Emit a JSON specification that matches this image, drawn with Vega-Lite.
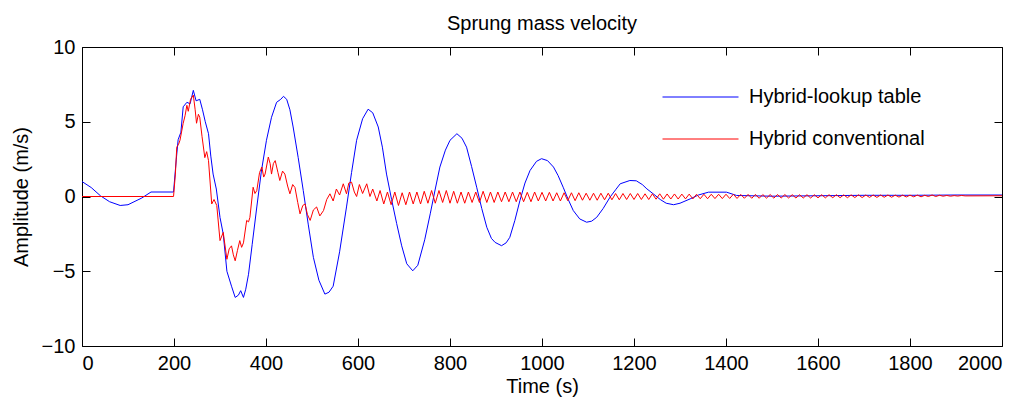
{
  "$schema": "https://vega.github.io/schema/vega-lite/v6.json",
  "width": 920,
  "height": 299,
  "autosize": {"type": "none"},
  "padding": {"left": 82, "top": 47, "right": 27, "bottom": 61},
  "background": "white",
  "title": {"text": "Sprung mass velocity", "fontSize": 20, "fontWeight": "normal", "font": "Liberation Sans", "color": "black", "anchor": "middle", "offset": 3},
  "config": {
    "font": "Liberation Sans",
    "view": {"stroke": "black", "strokeWidth": 1},
    "axis": {"grid": false, "domain": false, "tickColor": "black", "tickSize": -8, "tickWidth": 1, "labelFont": "Liberation Sans", "labelFontSize": 20, "labelColor": "black", "titleFont": "Liberation Sans", "titleFontSize": 20, "titleFontWeight": "normal", "titleColor": "black", "labelPadding": 15}
  },
  "datasets": {
    "lookup": [
      {"t":0,"v":1.0},{"t":20,"v":0.6},{"t":40,"v":0.05},{"t":60,"v":-0.35},{"t":83,"v":-0.6},{"t":100,"v":-0.55},{"t":130,"v":-0.1},{"t":150,"v":0.3},{"t":199,"v":0.3},
      {"t":205,"v":2.5},{"t":209,"v":3.8},{"t":215,"v":4.3},{"t":220,"v":6.0},{"t":228,"v":6.3},{"t":235,"v":6.2},{"t":242,"v":7.1},{"t":248,"v":6.4},{"t":256,"v":6.5},{"t":262,"v":5.8},{"t":268,"v":5.0},{"t":275,"v":4.2},{"t":280,"v":2.7},{"t":285,"v":1.5},{"t":292,"v":0.5},{"t":300,"v":-1.4},{"t":307,"v":-2.5},{"t":315,"v":-5.0},{"t":325,"v":-6.0},{"t":333,"v":-6.75},{"t":340,"v":-6.6},{"t":345,"v":-6.3},{"t":351,"v":-6.75},{"t":356,"v":-6.2},{"t":362,"v":-5.2},{"t":370,"v":-3.2},{"t":380,"v":-0.7},{"t":390,"v":1.7},{"t":401,"v":3.76},{"t":412,"v":5.3},{"t":423,"v":6.3},{"t":432,"v":6.5},{"t":438,"v":6.7},{"t":445,"v":6.5},{"t":452,"v":5.8},{"t":459,"v":4.65},{"t":470,"v":2.6},{"t":481,"v":0.4},{"t":492,"v":-1.9},{"t":503,"v":-4.07},{"t":515,"v":-5.6},{"t":528,"v":-6.53},{"t":537,"v":-6.4},{"t":546,"v":-6.0},{"t":560,"v":-3.7},{"t":575,"v":-0.7},{"t":586,"v":1.6},{"t":597,"v":3.76},{"t":610,"v":5.2},{"t":622,"v":5.84},{"t":632,"v":5.6},{"t":644,"v":4.65},{"t":653,"v":3.3},{"t":662,"v":1.5},{"t":673,"v":-0.2},{"t":684,"v":-1.8},{"t":695,"v":-3.3},{"t":706,"v":-4.5},{"t":719,"v":-4.97},{"t":730,"v":-4.6},{"t":745,"v":-2.9},{"t":757,"v":-1.16},{"t":768,"v":0.5},{"t":778,"v":1.97},{"t":790,"v":3.1},{"t":800,"v":3.76},{"t":815,"v":4.2},{"t":826,"v":3.9},{"t":836,"v":3.3},{"t":847,"v":2.0},{"t":858,"v":0.62},{"t":869,"v":-0.8},{"t":880,"v":-2.06},{"t":890,"v":-2.8},{"t":898,"v":-3.07},{"t":912,"v":-3.29},{"t":922,"v":-3.1},{"t":930,"v":-2.73},{"t":941,"v":-1.6},{"t":952,"v":-0.27},{"t":963,"v":0.9},{"t":974,"v":1.74},{"t":988,"v":2.35},{"t":999,"v":2.53},{"t":1012,"v":2.4},{"t":1025,"v":1.97},{"t":1035,"v":1.4},{"t":1046,"v":0.62},{"t":1057,"v":-0.2},{"t":1068,"v":-0.94},{"t":1082,"v":-1.5},{"t":1097,"v":-1.72},{"t":1108,"v":-1.65},{"t":1119,"v":-1.39},{"t":1133,"v":-0.8},{"t":1148,"v":-0.04},{"t":1160,"v":0.45},{"t":1170,"v":0.85},{"t":1191,"v":1.07},{"t":1205,"v":1.05},{"t":1218,"v":0.8},{"t":1228,"v":0.51},{"t":1243,"v":0.15},{"t":1257,"v":-0.2},{"t":1270,"v":-0.45},{"t":1286,"v":-0.55},{"t":1300,"v":-0.45},{"t":1322,"v":-0.16},{"t":1340,"v":0.1},{"t":1362,"v":0.29},{"t":1401,"v":0.29},{"t":1423,"v":0.07},{"t":1500,"v":0.02},{"t":1600,"v":0.05},{"t":1700,"v":0.08},{"t":1800,"v":0.08},{"t":1900,"v":0.1},{"t":2000,"v":0.1}
    ],
    "conventional": [
      {"t":0,"v":0},{"t":199,"v":0},{"t":203,"v":1.5},{"t":206,"v":3.3},{"t":210,"v":3.5},{"t":213,"v":3.76},{"t":220,"v":4.9},{"t":224,"v":5.4},{"t":228,"v":6.1},{"t":231,"v":5.7},{"t":236,"v":6.5},{"t":242,"v":6.78},{"t":246,"v":5.8},{"t":249,"v":4.9},{"t":253,"v":5.5},{"t":256,"v":5.3},{"t":261,"v":4.0},{"t":267,"v":2.6},{"t":271,"v":3.0},{"t":275,"v":2.4},{"t":282,"v":-0.5},{"t":287,"v":-0.2},{"t":293,"v":-0.6},{"t":300,"v":-2.95},{"t":307,"v":-2.4},{"t":315,"v":-4.2},{"t":320,"v":-3.5},{"t":325,"v":-3.3},{"t":329,"v":-3.9},{"t":333,"v":-4.3},{"t":338,"v":-3.6},{"t":343,"v":-2.95},{"t":347,"v":-3.4},{"t":351,"v":-3.1},{"t":358,"v":-1.6},{"t":362,"v":-1.7},{"t":365,"v":-1.4},{"t":372,"v":0.62},{"t":376,"v":0.2},{"t":380,"v":0.4},{"t":386,"v":1.6},{"t":391,"v":1.97},{"t":395,"v":1.3},{"t":398,"v":1.5},{"t":405,"v":2.64},{"t":409,"v":2.2},{"t":412,"v":1.5},{"t":416,"v":2.2},{"t":420,"v":2.4},{"t":426,"v":1.6},{"t":430,"v":1.07},{"t":436,"v":1.7},{"t":441,"v":1.5},{"t":447,"v":0.7},{"t":452,"v":0.18},{"t":458,"v":0.8},{"t":463,"v":0.6},{"t":469,"v":-0.4},{"t":474,"v":-1.16},{"t":480,"v":-0.6},{"t":485,"v":-0.5},{"t":490,"v":-1.2},{"t":496,"v":-1.6},{"t":503,"v":-0.9},{"t":510,"v":-0.7},{"t":517,"v":-1.3},{"t":525,"v":-0.94},{"t":532,"v":-0.2},{"t":539,"v":0.18},{"t":546,"v":-0.3},{"t":553,"v":0.5},{"t":560,"v":0.1},{"t":568,"v":0.85},{"t":575,"v":0.18},{"t":580,"v":0.9},{"t":586,"v":0.96},{"t":592,"v":0.3},{"t":597,"v":0.0},{"t":603,"v":0.8},{"t":610,"v":0.2},{"t":619,"v":0.85},{"t":626,"v":0.0},{"t":632,"v":0.5},{"t":641,"v":-0.3},
      {"t":648,"v":0.4},{"t":656,"v":-0.5},{"t":664,"v":0.3},{"t":672,"v":-0.55},{"t":680,"v":0.3},{"t":688,"v":-0.6},{"t":696,"v":0.25},{"t":704,"v":-0.55},{"t":712,"v":0.3},{"t":720,"v":-0.5},{"t":728,"v":0.3},{"t":736,"v":-0.5},{"t":744,"v":0.35},{"t":752,"v":-0.45},{"t":760,"v":0.4},{"t":768,"v":-0.45},{"t":776,"v":0.4},{"t":784,"v":-0.4},{"t":792,"v":0.4},{"t":800,"v":-0.45},
      {"t":808,"v":0.35},{"t":816,"v":-0.45},{"t":824,"v":0.3},{"t":832,"v":-0.45},{"t":840,"v":0.3},{"t":848,"v":-0.4},{"t":856,"v":0.3},{"t":864,"v":-0.4},{"t":872,"v":0.35},{"t":880,"v":-0.4},{"t":888,"v":0.3},{"t":896,"v":-0.4},{"t":904,"v":0.3},{"t":912,"v":-0.35},{"t":920,"v":0.3},{"t":928,"v":-0.35},{"t":936,"v":0.3},{"t":944,"v":-0.35},{"t":952,"v":0.3},{"t":960,"v":-0.35},{"t":968,"v":0.28},{"t":976,"v":-0.35},{"t":984,"v":0.3},{"t":992,"v":-0.3},{"t":1000,"v":0.28},
      {"t":1008,"v":-0.3},{"t":1016,"v":0.28},{"t":1024,"v":-0.3},{"t":1032,"v":0.25},{"t":1040,"v":-0.3},{"t":1048,"v":0.25},{"t":1056,"v":-0.28},{"t":1064,"v":0.25},{"t":1072,"v":-0.28},{"t":1080,"v":0.25},{"t":1088,"v":-0.25},{"t":1096,"v":0.22},{"t":1104,"v":-0.25},{"t":1112,"v":0.22},{"t":1120,"v":-0.25},{"t":1128,"v":0.22},{"t":1136,"v":-0.22},{"t":1144,"v":0.22},{"t":1152,"v":-0.22},{"t":1160,"v":0.2},{"t":1168,"v":-0.22},{"t":1176,"v":0.2},{"t":1184,"v":-0.2},{"t":1192,"v":0.2},{"t":1200,"v":-0.2},
      {"t":1208,"v":0.2},{"t":1216,"v":-0.2},{"t":1224,"v":0.18},{"t":1232,"v":-0.2},{"t":1240,"v":0.18},{"t":1248,"v":-0.18},{"t":1256,"v":0.18},{"t":1264,"v":-0.18},{"t":1272,"v":0.17},{"t":1280,"v":-0.17},{"t":1288,"v":0.17},{"t":1296,"v":-0.17},{"t":1304,"v":0.16},{"t":1312,"v":-0.16},{"t":1320,"v":0.16},{"t":1328,"v":-0.16},{"t":1336,"v":0.15},{"t":1344,"v":-0.15},{"t":1352,"v":0.15},{"t":1360,"v":-0.15},{"t":1368,"v":0.15},{"t":1376,"v":-0.14},{"t":1384,"v":0.15},{"t":1392,"v":-0.14},{"t":1400,"v":0.15},
      {"t":1408,"v":-0.13},{"t":1416,"v":0.15},{"t":1424,"v":-0.13},{"t":1432,"v":0.14},{"t":1440,"v":-0.12},{"t":1448,"v":0.14},{"t":1456,"v":-0.12},{"t":1464,"v":0.14},{"t":1472,"v":-0.12},{"t":1480,"v":0.13},{"t":1488,"v":-0.11},{"t":1496,"v":0.13},{"t":1504,"v":-0.11},{"t":1512,"v":0.13},{"t":1520,"v":-0.1},{"t":1528,"v":0.13},{"t":1536,"v":-0.1},{"t":1544,"v":0.12},{"t":1552,"v":-0.1},{"t":1560,"v":0.12},{"t":1568,"v":-0.1},{"t":1576,"v":0.12},{"t":1584,"v":-0.1},{"t":1592,"v":0.12},{"t":1600,"v":-0.09},
      {"t":1608,"v":0.12},{"t":1616,"v":-0.09},{"t":1624,"v":0.12},{"t":1632,"v":-0.08},{"t":1640,"v":0.12},{"t":1648,"v":-0.08},{"t":1656,"v":0.11},{"t":1664,"v":-0.08},{"t":1672,"v":0.11},{"t":1680,"v":-0.07},{"t":1688,"v":0.11},{"t":1696,"v":-0.07},{"t":1704,"v":0.1},{"t":1712,"v":-0.06},{"t":1720,"v":0.1},{"t":1728,"v":-0.06},{"t":1736,"v":0.1},{"t":1744,"v":-0.05},{"t":1752,"v":0.1},{"t":1760,"v":-0.05},{"t":1768,"v":0.09},{"t":1776,"v":-0.04},{"t":1784,"v":0.09},{"t":1792,"v":-0.03},{"t":1800,"v":0.09},
      {"t":1808,"v":-0.02},{"t":1816,"v":0.09},{"t":1824,"v":-0.02},{"t":1832,"v":0.08},{"t":1840,"v":0.0},{"t":1848,"v":0.1},{"t":1856,"v":0.0},{"t":1864,"v":0.08},{"t":1872,"v":0.02},{"t":1880,"v":0.07},{"t":1888,"v":0.02},{"t":1896,"v":0.06},{"t":1904,"v":0.03},{"t":1912,"v":0.07},{"t":1920,"v":0.04},{"t":2000,"v":0.05}
    ]
  },
  "layer": [
    {
      "data": {"name": "lookup"},
      "mark": {"type": "line", "strokeWidth": 1, "clip": true},
      "encoding": {
        "x": {"field": "t", "type": "quantitative", "scale": {"domain": [0, 2000], "nice": false, "zero": false}, "axis": {"orient": "bottom", "values": [0,200,400,600,800,1000,1200,1400,1600,1800,2000], "format": "d", "title": "Time (s)", "titlePadding": 3}},
        "y": {"field": "v", "type": "quantitative", "scale": {"domain": [-10, 10], "nice": false}, "axis": {"orient": "left", "values": [-10,-5,0,5,10], "format": "d", "title": "Amplitude (m/s)", "titlePadding": 10}},
        "color": {"datum": "Hybrid-lookup table", "type": "nominal", "scale": {"domain": ["Hybrid-lookup table", "Hybrid conventional"], "range": ["#0000ff", "#ff0000"]},
          "legend": {"title": null, "orient": "none", "legendX": 608.5, "legendY": 40, "symbolType": "M-4,0H4", "symbolSize": 361, "symbolStrokeWidth": 1, "symbolFillColor": "transparent", "labelFontSize": 20, "labelFont": "Liberation Sans", "labelColor": "black", "labelOffset": 38.5, "labelLimit": 0, "rowPadding": 22, "padding": 0}}
      }
    },
    {
      "data": {"name": "conventional"},
      "mark": {"type": "line", "strokeWidth": 1, "clip": true},
      "encoding": {
        "x": {"field": "t", "type": "quantitative", "scale": {"domain": [0, 2000], "nice": false, "zero": false}, "axis": {"orient": "top", "values": [0,200,400,600,800,1000,1200,1400,1600,1800,2000], "labels": false, "title": null}},
        "y": {"field": "v", "type": "quantitative", "scale": {"domain": [-10, 10], "nice": false}, "axis": {"orient": "right", "values": [-10,-5,0,5,10], "labels": false, "title": null}},
        "color": {"datum": "Hybrid conventional", "type": "nominal"}
      }
    }
  ],
  "resolve": {"axis": {"x": "independent", "y": "independent"}}
}
